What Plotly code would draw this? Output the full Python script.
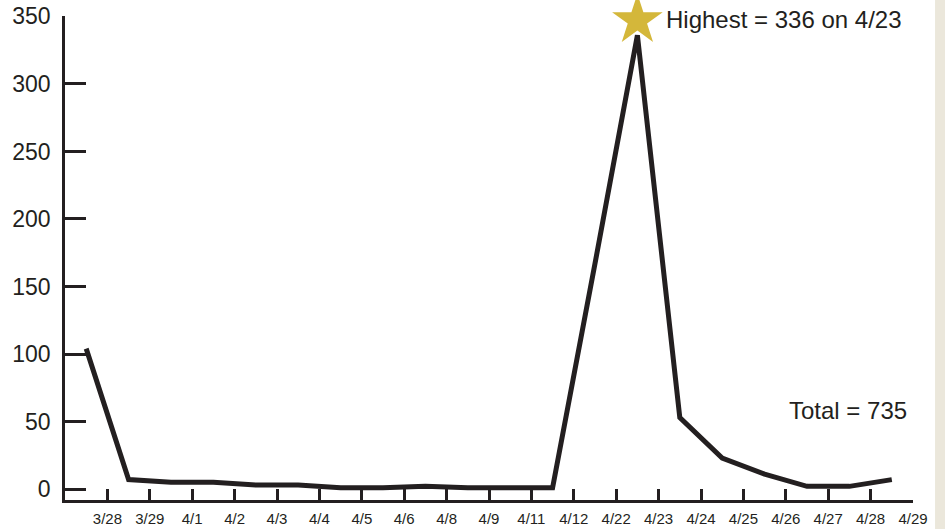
import plotly.graph_objects as go

# Daily counts
dates = ['3/28', '3/29', '4/1', '4/2', '4/3', '4/4', '4/5', '4/6', '4/8', '4/9',
         '4/11', '4/12', '4/22', '4/23', '4/24', '4/25', '4/26', '4/27', '4/28', '4/29']
counts = [104, 7, 5, 5, 3, 3, 1, 1, 2, 1,
          1, 1, 167, 336, 53, 23, 11, 2, 2, 7]
y_ticks = [0, 50, 100, 150, 200, 250, 300, 350]

ink = '#231f20'
gold = '#d4b73a'
font_main = 'Liberation Sans, Arial, sans-serif'

xs = list(range(len(counts)))
peak_i = counts.index(max(counts))
total = sum(counts)

fig = go.Figure()

fig.add_trace(go.Scatter(
    x=xs, y=counts,
    mode='lines',
    line=dict(color=ink, width=5),
    hoverinfo='skip',
    showlegend=False,
))

# star over the highest day
fig.add_trace(go.Scatter(
    x=[xs[peak_i]], y=[counts[peak_i] + 11],
    mode='markers',
    marker=dict(symbol='star', size=38, color=gold, line=dict(width=0)),
    cliponaxis=False,
    hoverinfo='skip',
    showlegend=False,
))

fig.add_annotation(
    x=xs[peak_i] + 0.62, y=counts[peak_i] + 12,
    xref='x', yref='y',
    text=f'Highest = {max(counts)} on {dates[peak_i]}',
    showarrow=False, xanchor='left', yanchor='middle',
    font=dict(family=font_main, size=24, color=ink),
)
fig.add_annotation(
    x=19.4, y=58,
    xref='x', yref='y',
    text=f'Total = {total}',
    showarrow=False, xanchor='right', yanchor='middle',
    font=dict(family=font_main, size=24, color=ink),
)

# beige strip at the right edge
fig.add_shape(type='rect', xref='paper', yref='paper',
              x0=1.026, x1=1.08, y0=-0.2, y1=1.1,
              fillcolor='#ebe7db', line=dict(width=0), layer='below')

fig.update_xaxes(
    range=[-0.5, len(counts) - 0.5],
    tickvals=[i + 0.5 for i in xs],
    ticktext=dates,
    ticks='inside', ticklen=11, tickwidth=2.5, tickcolor=ink,
    showline=True, linecolor=ink, linewidth=2.5,
    showgrid=False, zeroline=False,
    tickfont=dict(family=font_main, size=15, color=ink),
    ticklabelstandoff=3,
    automargin=False,
)
fig.update_yaxes(
    range=[-8.1, 350.3],
    tickvals=y_ticks,
    ticks='inside', ticklen=21, tickwidth=2.5, tickcolor=ink,
    showline=True, linecolor=ink, linewidth=2.5,
    showgrid=False, zeroline=False,
    tickfont=dict(family=font_main, size=23, color=ink),
    ticklabelstandoff=7,
    automargin=False,
)

fig.update_layout(
    width=945, height=529,
    margin=dict(l=65, r=32, t=16, b=29),
    plot_bgcolor='white',
    paper_bgcolor='white',
    showlegend=False,
)

# drop the browser's default 8px body margin so the figure sits at the corner
fig.write_html("out.html", config={'displayModeBar': False},
               post_script="document.body.style.margin = '0';")
